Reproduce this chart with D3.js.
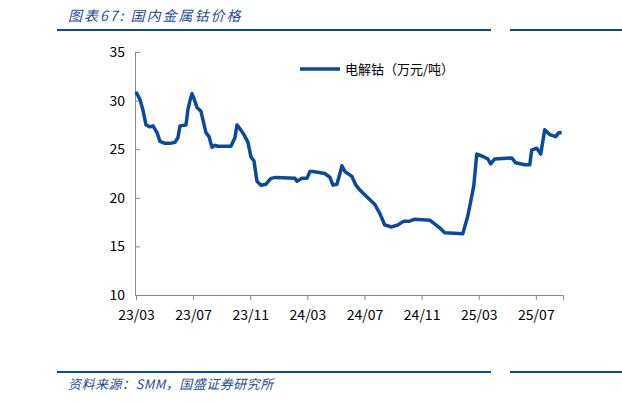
<!DOCTYPE html><html><head><meta charset="utf-8"><script src="https://cdn.jsdelivr.net/npm/d3@7"></script>
<style>body{margin:0;background:#fff}text{font-family:"Noto Sans CJK SC","Liberation Sans",sans-serif}</style></head><body><svg id="c" width="622" height="404"></svg><script>
const monthsSince2303=[0,.28,.49,.70,.98,1.19,1.47,1.68,2.03,2.38,2.73,2.94,3.08,3.50,3.64,3.78,3.92,4.06,4.27,4.55,4.69,4.90,5.11,5.32,5.53,5.74,6.65,6.93,7.07,7.28,7.56,7.84,8.05,8.26,8.47,8.75,9.10,9.45,9.80,11.13,11.27,11.62,11.97,12.18,12.39,13.23,13.58,13.79,14.07,14.28,14.42,14.63,15.12,15.40,15.68,16.03,16.38,16.73,17.07,17.42,17.91,18.33,18.75,19.17,19.52,20.57,21.27,21.62,22.88,23.23,23.65,23.86,24.21,24.63,24.84,25.12,26.31,26.59,27.22,27.57,27.71,28.06,28.34,28.62,28.97,29.39,29.60,29.81];
const cobaltPrice=[30.9,30.1,29.0,27.5,27.3,27.4,26.7,25.8,25.6,25.6,25.7,26.2,27.4,27.5,29.1,30.0,30.7,30.2,29.3,28.9,28.0,26.7,26.3,25.2,25.4,25.3,25.3,26.2,27.5,27.1,26.5,25.7,24.2,23.8,21.7,21.3,21.4,22.0,22.1,22.0,21.7,22.0,22.0,22.7,22.7,22.5,22.1,21.3,21.4,22.5,23.3,22.7,22.2,21.3,20.8,20.3,19.8,19.3,18.4,17.2,17.0,17.2,17.6,17.6,17.8,17.7,16.9,16.4,16.3,18.1,21.2,24.5,24.3,24.0,23.5,24.0,24.1,23.6,23.4,23.4,24.9,25.1,24.5,27.0,26.5,26.3,26.7,26.7];
const tickMonths=[0,4,8,12,16,20,24,28];
const tickLabels=["23/03","23/07","23/11","24/03","24/07","24/11","25/03","25/07"];
const yTicks=[10,15,20,25,30,35];
const svg=d3.select("#c");
const blue="#0a4a9e";
svg.append("text").attr("x",68).attr("y",21).attr("fill","#1f4e96").attr("font-size",14).attr("letter-spacing",2).attr("font-style","italic").text("图表67:  国内金属钴价格");
svg.append("rect").attr("x",57).attr("y",29).attr("width",434).attr("height",2).attr("fill","#0a4a9e");
svg.append("rect").attr("x",510).attr("y",29).attr("width",112).attr("height",2).attr("fill","#0a4a9e");
svg.append("rect").attr("x",57).attr("y",371).attr("width",434).attr("height",2).attr("fill","#0a4a9e");
svg.append("rect").attr("x",510).attr("y",371).attr("width",112).attr("height",2).attr("fill","#0a4a9e");
svg.append("text").attr("x",68).attr("y",389).attr("fill","#1f4e96").attr("font-size",13).attr("letter-spacing",0.5).attr("font-style","italic").text("资料来源：SMM，国盛证券研究所");
const x=d3.scaleLinear().domain([0,29.9]).range([136,563]);
const y=d3.scaleLinear().domain([10,35]).range([295,52]);
const ya=svg.append("g").attr("transform","translate(135,0)").call(d3.axisRight(y).tickValues(yTicks).tickSize(5));
ya.selectAll("text").attr("x",-10).attr("text-anchor","end").attr("font-size",14).attr("fill","#000");
const xa=svg.append("g").attr("transform","translate(0,295)").call(d3.axisBottom(x).tickValues(tickMonths).tickFormat((d,i)=>tickLabels[i]).tickSize(5));
xa.selectAll("text").attr("dy","1.2em").attr("font-size",14).attr("fill","#000");
svg.selectAll(".domain,.tick line").attr("stroke","#888");
svg.append("path").datum(monthsSince2303.map((m,i)=>[m,cobaltPrice[i]])).attr("fill","none").attr("stroke",blue).attr("stroke-width",3.5).attr("stroke-linejoin","round")
 .attr("d",d3.line().x(d=>x(d[0])).y(d=>y(d[1])));
svg.append("line").attr("x1",300).attr("x2",340).attr("y1",69).attr("y2",69).attr("stroke",blue).attr("stroke-width",3.5);
svg.append("text").attr("x",345).attr("y",74).attr("font-size",13).text("电解钴（万元/吨）");
</script></body></html>
